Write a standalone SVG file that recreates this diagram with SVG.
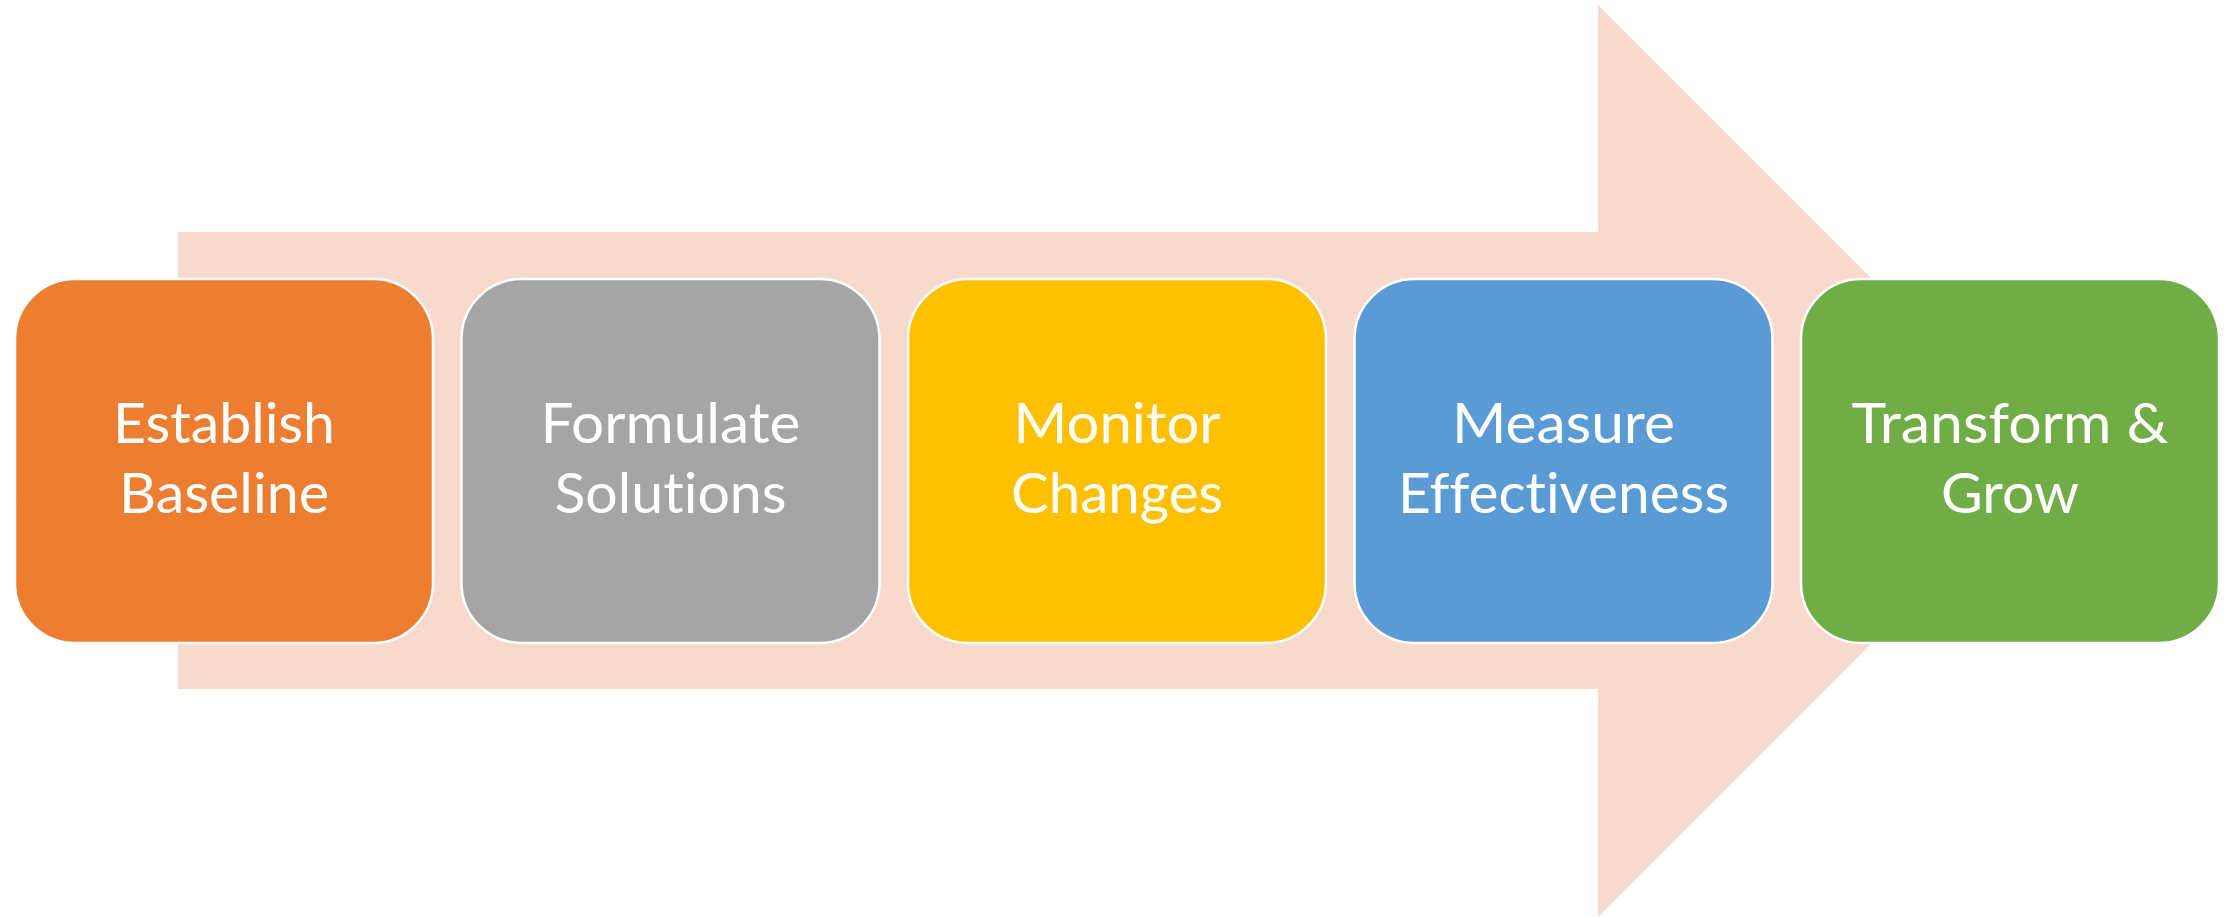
<svg xmlns="http://www.w3.org/2000/svg" width="2233" height="917" viewBox="0 0 2233 917">
  <style>
    .step { stroke: #ffffff; stroke-width: 2.5; }
    .label { font-family: Lato, "Open Sans", "Liberation Sans", sans-serif; font-size: 56px; fill: #ffffff; text-anchor: middle; font-variant-ligatures: none; font-feature-settings: "liga" 0, "clig" 0; }
  </style>
  <rect width="2233" height="917" fill="#ffffff"/>

  <!-- Background block arrow -->
  <g id="connectors">
    <polygon id="flow-arrow" points="178,232 1598,232 1598,5 2054,461 1598,917 1598,689 178,689" fill="#F7D9CE"/>
  </g>

  <g id="step-establish">
    <rect class="step" x="15" y="279" width="418" height="364" rx="60" ry="60" fill="#ED7D31"/>
    <text class="label" x="224" y="443" textLength="222" lengthAdjust="spacingAndGlyphs">Establish</text>
    <text class="label" x="224" y="513" textLength="210" lengthAdjust="spacingAndGlyphs">Baseline</text>
  </g>

  <g id="step-formulate">
    <rect class="step" x="461.5" y="279" width="418" height="364" rx="60" ry="60" fill="#A5A5A5"/>
    <text class="label" x="670.5" y="443" textLength="260" lengthAdjust="spacingAndGlyphs">Formulate</text>
    <text class="label" x="670.5" y="513" textLength="232" lengthAdjust="spacingAndGlyphs">Solutions</text>
  </g>

  <g id="step-monitor">
    <rect class="step" x="908" y="279" width="418" height="364" rx="60" ry="60" fill="#FFC000"/>
    <text class="label" x="1117" y="443" textLength="207" lengthAdjust="spacingAndGlyphs">Monitor</text>
    <text class="label" x="1117" y="513" textLength="212" lengthAdjust="spacingAndGlyphs">Changes</text>
  </g>

  <g id="step-measure">
    <rect class="step" x="1354.5" y="279" width="418" height="364" rx="60" ry="60" fill="#5B9BD5"/>
    <text class="label" x="1563.5" y="443" textLength="223" lengthAdjust="spacingAndGlyphs">Measure</text>
    <text class="label" x="1563.5" y="513" textLength="331" lengthAdjust="spacingAndGlyphs">Effectiveness</text>
  </g>

  <g id="step-transform">
    <rect class="step" x="1801" y="279" width="418" height="364" rx="60" ry="60" fill="#70AD47"/>
    <text class="label" x="2010" y="443" textLength="317" lengthAdjust="spacingAndGlyphs">Transform &amp;</text>
    <text class="label" x="2010" y="513" textLength="138" lengthAdjust="spacingAndGlyphs">Grow</text>
  </g>
</svg>
